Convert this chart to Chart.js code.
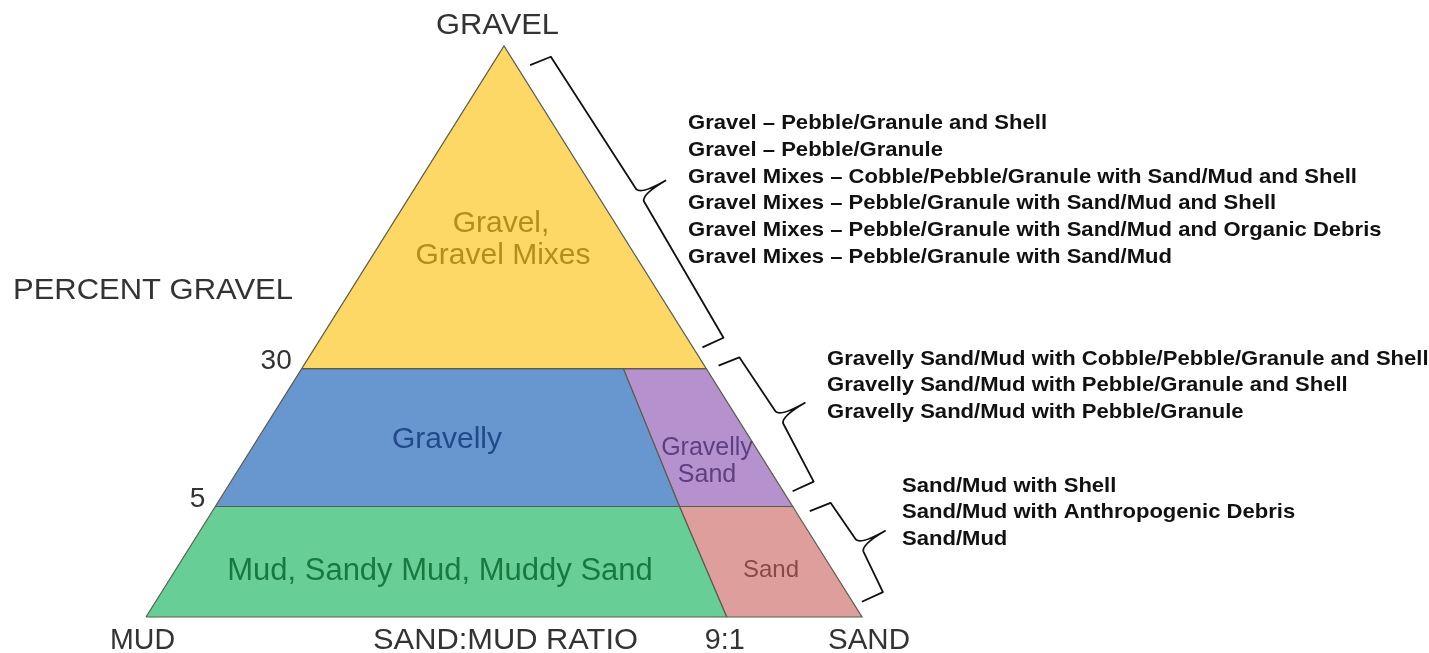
<!DOCTYPE html>
<html>
<head>
<meta charset="utf-8">
<script src="https://cdn.jsdelivr.net/npm/chart.js@4/dist/chart.umd.min.js"></script>
<style>
  body { margin: 0; background: #fff; }
  #wrap { width: 1429px; height: 653px; position: relative; }
</style>
</head>
<body>
<div id="wrap"><canvas id="chart"></canvas></div>
<script>
// percent gravel boundaries and the sand:mud split (9:1 = 0.9 sand)
const gravelTicks = [5, 30];
const ratioTick = '9:1';
const ratioSplit = 0.9;

const regionNames = ['Gravel, Gravel Mixes', 'Gravelly', 'Gravelly Sand', 'Mud, Sandy Mud, Muddy Sand', 'Sand'];
const regionGravelMin = [30, 5, 5, 0, 0];
const regionGravelMax = [100, 30, 30, 5, 5];
const regionSandMin = [0, 0, 0.9, 0, 0.9];
const regionSandMax = [1, 0.9, 1, 0.9, 1];

const gravelClasses = [
    'Gravel \u2013 Pebble/Granule and Shell',
    'Gravel \u2013 Pebble/Granule',
    'Gravel Mixes \u2013 Cobble/Pebble/Granule with Sand/Mud and Shell',
    'Gravel Mixes \u2013 Pebble/Granule with Sand/Mud and Shell',
    'Gravel Mixes \u2013 Pebble/Granule with Sand/Mud and Organic Debris',
    'Gravel Mixes \u2013 Pebble/Granule with Sand/Mud'
];
const gravellyClasses = [
    'Gravelly Sand/Mud with Cobble/Pebble/Granule and Shell',
    'Gravelly Sand/Mud with Pebble/Granule and Shell',
    'Gravelly Sand/Mud with Pebble/Granule'
];
const sandClasses = [
    'Sand/Mud with Shell',
    'Sand/Mud with Anthropogenic Debris',
    'Sand/Mud'
];

// the diagram is a schematic, not to scale: where each gravel level sits (0..1 of height)
function levelHeight(g) {
    if (g <= 0) return 0;
    if (g <= 5) return 0.1935 * g / 5;
    if (g <= 30) return 0.1935 + (0.435 - 0.1935) * (g - 5) / 25;
    return 0.435 + (1 - 0.435) * (g - 30) / 70;
}
function ratioPos(s, h) {
    if (s <= 0) return 0;
    if (s >= 1) return 1;
    return 0.811 - 0.037 * h;
}
function toXY(g, s) {
    const h = levelHeight(g);
    return { x: h / 2 + ratioPos(s, h) * (1 - h), y: h };
}

const fills = ['#fdd866', '#6897cf', '#b592cd', '#67cf96', '#dd9e9c'];
const labelColors = ['#b28f1d', '#22498a', '#5d3f82', '#18793f', '#8a4947'];

const datasets = regionNames.map(function (name, i) {
    const pts = [
        toXY(regionGravelMin[i], regionSandMin[i]),
        toXY(regionGravelMin[i], regionSandMax[i]),
        toXY(regionGravelMax[i], regionSandMax[i]),
        toXY(regionGravelMax[i], regionSandMin[i])
    ];
    pts.push(pts[0]);
    return {
        label: name,
        data: pts,
        showLine: true,
        fill: 'shape',
        backgroundColor: fills[i],
        borderColor: '#5c5c50',
        borderWidth: 1.2,
        pointRadius: 0,
        tension: 0,
        clip: false
    };
});

const FONT = '"Liberation Sans", Arial, sans-serif';

// text stretched sideways to the given width (the source lettering is a bit wide)
function wideText(ctx, text, x, y, width) {
    const w = ctx.measureText(text).width;
    const k = width ? width / w : 1;
    ctx.save();
    ctx.translate(x, y);
    ctx.scale(k, 1);
    ctx.fillText(text, 0, 0);
    ctx.restore();
}

function drawBrace(ctx, a, b, trimA, trimB) {
    const len = Math.hypot(b.x - a.x, b.y - a.y);
    const d = { x: (b.x - a.x) / len, y: (b.y - a.y) / len };
    const n = { x: d.y, y: -d.x };
    const P = (s, t) => ({ x: a.x + d.x * s + n.x * t, y: a.y + d.y * s + n.y * t });
    const mid = (trimA + len - trimB) / 2;
    const h1 = P(trimA - 4, 12), c1 = P(trimA, 34), m1 = P(mid - 7, 36), m = P(mid, 38), tip = P(mid + 1, 66);
    const m2 = P(mid + 7, 36), c2 = P(len - trimB, 31), h2 = P(len - trimB - 3, 8);
    ctx.beginPath();
    ctx.moveTo(h1.x, h1.y);
    ctx.lineTo(c1.x, c1.y);
    ctx.lineTo(m1.x, m1.y);
    ctx.quadraticCurveTo(m.x, m.y, tip.x, tip.y);
    ctx.moveTo(tip.x, tip.y);
    ctx.quadraticCurveTo(m.x, m.y, m2.x, m2.y);
    ctx.lineTo(c2.x, c2.y);
    ctx.lineTo(h2.x, h2.y);
    ctx.stroke();
}

const textPlugin = {
    id: 'ternaryText',
    afterDatasetsDraw(chart) {
        const ctx = chart.ctx;
        const xs = chart.scales.x, ys = chart.scales.y;
        const px = p => ({ x: xs.getPixelForValue(p.x), y: ys.getPixelForValue(p.y) });
        ctx.save();

        // corner / axis labels
        ctx.fillStyle = '#333';
        ctx.textBaseline = 'alphabetic';
        ctx.textAlign = 'left';
        ctx.font = '29px ' + FONT;
        const apex = px(toXY(100, 0));
        const mud = px(toXY(0, 0));
        const sand = px(toXY(0, 1));
        wideText(ctx, 'GRAVEL', apex.x - 68, 34, 123);
        wideText(ctx, 'MUD', mud.x - 36, 649, 65);
        wideText(ctx, 'SAND:MUD RATIO', 373, 649, 265);
        wideText(ctx, 'SAND', sand.x - 34, 649, 82);
        wideText(ctx, 'PERCENT GRAVEL', 13, 299, 280);
        const split = px(toXY(0, ratioSplit));
        wideText(ctx, ratioTick, split.x - 22, 649, 40);

        ctx.font = '28px ' + FONT;
        ctx.textAlign = 'right';
        ctx.textBaseline = 'middle';
        gravelTicks.forEach(function (g) {
            const p = px(toXY(g, 0));
            ctx.fillText(String(g), p.x - 10, p.y - 7);
        });

        // region labels
        ctx.textAlign = 'center';
        ctx.font = '30px ' + FONT;
        ctx.fillStyle = labelColors[0];
        ctx.fillText('Gravel,', 501, 224);
        ctx.fillText('Gravel Mixes', 503, 256);
        ctx.fillStyle = labelColors[1];
        ctx.fillText('Gravelly', 447, 440);
        ctx.fillStyle = labelColors[3];
        ctx.font = '31px ' + FONT;
        ctx.fillText(regionNames[3], 440, 571);
        ctx.font = '25px ' + FONT;
        ctx.fillStyle = labelColors[2];
        ctx.fillText('Gravelly', 707, 448);
        ctx.fillText('Sand', 707, 475);
        ctx.font = '24px ' + FONT;
        ctx.fillStyle = labelColors[4];
        ctx.fillText('Sand', 771, 570);

        // braces along the sand edge, one per gravel band
        ctx.strokeStyle = '#111';
        ctx.lineWidth = 1.8;
        ctx.lineJoin = 'round';
        const e30 = px(toXY(30, 1)), e5 = px(toXY(5, 1));
        drawBrace(ctx, apex, e30, 34, 17);
        drawBrace(ctx, e30, e5, 8, 10);
        drawBrace(ctx, e5, sand, 17, 10);

        // class lists
        ctx.fillStyle = '#111';
        ctx.textAlign = 'left';
        ctx.font = 'bold 21px ' + FONT;
        const k = 1.05;
        gravelClasses.forEach((t, i) => wideText(ctx, t, 688, 123.5 + i * 26.7, ctx.measureText(t).width * k));
        gravellyClasses.forEach((t, i) => wideText(ctx, t, 827, 359 + i * 26.5, ctx.measureText(t).width * k));
        sandClasses.forEach((t, i) => wideText(ctx, t, 902, 486 + i * 26.5, ctx.measureText(t).width * k));

        ctx.restore();
    }
};

new Chart(document.getElementById('chart'), {
    type: 'scatter',
    data: { datasets: datasets },
    options: {
        responsive: true,
        maintainAspectRatio: false,
        animation: false,
        layout: { padding: { left: 146, right: 567, top: 46, bottom: 36 } },
        scales: {
            x: { type: 'linear', min: 0, max: 1, display: false },
            y: { type: 'linear', min: 0, max: 1, display: false }
        },
        plugins: { legend: { display: false }, tooltip: { enabled: false } }
    },
    plugins: [textPlugin]
});
</script>
</body>
</html>
